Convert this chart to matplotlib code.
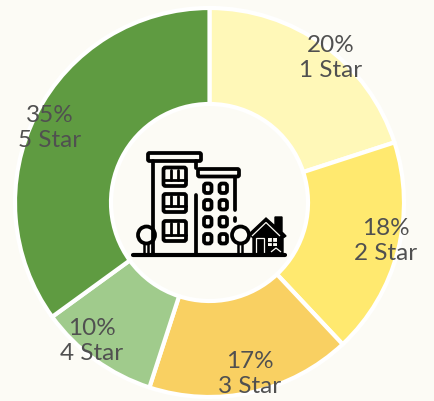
import matplotlib
matplotlib.use("Agg")
import matplotlib.pyplot as plt
from matplotlib.patches import Rectangle, Circle, Polygon, FancyBboxPatch

categories = ["1 Star", "2 Star", "3 Star", "4 Star", "5 Star"]
shares = [20, 18, 17, 10, 35]
colors = ["#FFF8B8", "#FFE96F", "#F9D062", "#A0CB8C", "#5F9B41"]
label_px = [(331, 58), (386, 241), (250, 374), (92, 341), (50, 128)]

BG = "#FCFBF5"
W, H = 435, 401
fig = plt.figure(figsize=(W / 100, H / 100), dpi=100, facecolor=BG)
ax = fig.add_axes([0, 0, 1, 1])
ax.set_xlim(0, W)
ax.set_ylim(0, H)
ax.axis("off")
ax.pie(shares, colors=colors, startangle=90, counterclock=False,
       center=(209.5, H - 202.5), radius=194.5,
       wedgeprops=dict(width=96, edgecolor="#FFFFFF", linewidth=3.0))
ax.set_xlim(0, W)
ax.set_ylim(0, H)
ax.set_aspect("equal")

for cat, s, (px, py) in zip(categories, shares, label_px):
    ax.text(px, H - py, f"{s}%\n{cat}", ha="center", va="center", color="#505050",
            fontsize=17.5, family="Lato", fontweight="normal", linespacing=1.28, zorder=5)

# building icon, in pixel coordinates
ic = fig.add_axes([0, 0, 1, 1], facecolor="none")
ic.set_xlim(0, W)
ic.set_ylim(H, 0)
ic.axis("off")
K = "#000000"
LW = 2.7

def box(x0, y0, x1, y1, lw=LW, fc="none", r=1.5):
    ic.add_patch(FancyBboxPatch((x0, y0), x1 - x0, y1 - y0,
                 boxstyle=f"round,pad=0,rounding_size={r}", ec=K, fc=fc, lw=lw))

def line(xs, ys, lw=LW):
    ic.plot(xs, ys, color=K, lw=lw, solid_capstyle="round")

# tall block
box(148, 153, 201, 161)
line([153, 153], [161, 254])
line([196.5, 196.5], [161, 168])
line([196.5, 196.5], [195, 254])
for y0, y1 in [(167.5, 186), (194, 212), (221, 241)]:
    box(163.5, y0, 186, y1, r=2)
    line([171.5, 171.5], [y0 + 2, y1 - 6], lw=2)
    line([178, 178], [y0 + 2, y1 - 6], lw=2)
    line([164, 186], [y1 - 6, y1 - 6], lw=2)
# lower block
box(198, 169, 239, 176.5)
line([235, 235], [177, 210])
line([235, 235], [218, 221])
for y0 in (183.5, 200, 217, 234):
    for x0 in (204, 219.5):
        box(x0, y0, x0 + 7.5, y0 + 9.5, r=2.5)
# trees
for cx in (146.5, 240.5):
    ic.add_patch(Circle((cx, 235), 8.5, ec=K, fc=BG, lw=LW))
    line([cx - 2, cx - 2], [244, 254], lw=1.8)
    line([cx + 2, cx + 2], [244, 254], lw=1.8)
# ground
line([133, 285], [254.5, 254.5], lw=3)
# house
ic.add_patch(Polygon([(249, 234), (266, 218), (275, 226), (275, 217), (282, 217),
                      (282, 232), (286, 236), (283, 238), (283, 255), (253, 255), (253, 238)],
                     closed=True, ec=K, fc=K, lw=1))
ic.add_patch(Polygon([(252, 236), (266, 222.5), (280, 236)], closed=False, ec=BG, fc="none", lw=0.9))
ic.add_patch(Rectangle((256, 238), 8, 16, ec=BG, fc="none", lw=0.9))
ic.add_patch(Rectangle((268, 238), 9, 8, ec="none", fc=BG))
line([272.5, 272.5], [238, 246], lw=0.9)
line([268, 277], [242, 242], lw=0.9)
ic.add_patch(Polygon([(271, 252), (276, 248), (281, 252)], closed=False, ec=BG, fc="none", lw=0.9))

fig.savefig("out.png", dpi=100, facecolor=BG)
